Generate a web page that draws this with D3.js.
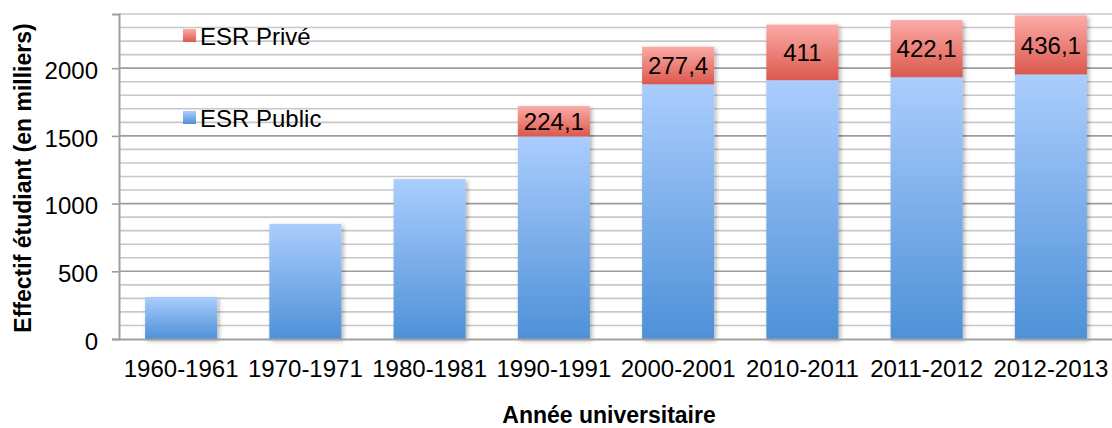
<!DOCTYPE html>
<html>
<head>
<meta charset="utf-8">
<script src="https://cdn.jsdelivr.net/npm/d3@7"></script>
<style>
  body { margin: 0; background: #fff; }
  text { font-family: "Liberation Sans", Arial, sans-serif; fill: #000; }
</style>
</head>
<body>
<div id="chart"></div>
<script>
// chart data
const years = ["1960-1961", "1970-1971", "1980-1981", "1990-1991", "2000-2001", "2010-2011", "2011-2012", "2012-2013"];
const esrPublic = [310, 850, 1181, 1496, 1881, 1911, 1933, 1954];
const esrPrive = [0, 0, 0, 224.1, 277.4, 411, 422.1, 436.1];
const yTicks = [0, 500, 1000, 1500, 2000];
const seriesNames = ["ESR Privé", "ESR Public"];

const svgWidth = 1112;
const svgHeight = 428;
const margin = { top: 14, right: -1, bottom: 89, left: 119 };
const width = svgWidth - margin.left - margin.right;
const height = svgHeight - margin.top - margin.bottom;

const svg = d3.select("#chart")
  .append("svg")
  .attr("width", svgWidth)
  .attr("height", svgHeight);

// gradients + shadow
const defs = svg.append("defs");
const blueGrad = defs.append("linearGradient")
  .attr("id", "blueGrad").attr("x1", 0).attr("y1", 0).attr("x2", 0).attr("y2", 1);
blueGrad.append("stop").attr("offset", "0%").attr("stop-color", "#abcdfd");
blueGrad.append("stop").attr("offset", "100%").attr("stop-color", "#4e91d8");
const redGrad = defs.append("linearGradient")
  .attr("id", "redGrad").attr("x1", 0).attr("y1", 0).attr("x2", 0).attr("y2", 1);
redGrad.append("stop").attr("offset", "0%").attr("stop-color", "#fcaba7");
redGrad.append("stop").attr("offset", "100%").attr("stop-color", "#db584d");
const shadow = defs.append("filter").attr("id", "shadow")
  .attr("x", "-20%").attr("y", "-20%").attr("width", "140%").attr("height", "140%");
shadow.append("feDropShadow")
  .attr("dx", 2).attr("dy", 2).attr("stdDeviation", 2)
  .attr("flood-color", "#000").attr("flood-opacity", 0.3);

const chartGroup = svg.append("g")
  .attr("transform", `translate(${margin.left},${margin.top})`);

const x = d3.scaleBand()
  .domain(years)
  .range([0, width])
  .paddingInner(0.42)
  .paddingOuter(0.21);

const y = d3.scaleLinear()
  .domain([0, 2400])
  .range([height, 0]);

// gridlines, minor every 100
const minor = d3.range(100, 2401, 100).filter(v => v % 500 !== 0);
chartGroup.selectAll(".minor")
  .data(minor)
  .enter()
  .append("line")
  .attr("x1", 0).attr("x2", width)
  .attr("y1", d => y(d)).attr("y2", d => y(d))
  .attr("stroke", "#c8c8c8")
  .attr("stroke-width", 1.6);

chartGroup.selectAll(".major")
  .data(yTicks.slice(1))
  .enter()
  .append("line")
  .attr("x1", 0).attr("x2", width)
  .attr("y1", d => y(d)).attr("y2", d => y(d))
  .attr("stroke", "#9c9c9c")
  .attr("stroke-width", 1.6);

// y axis
const leftAxis = d3.axisLeft(y).tickValues(yTicks).tickFormat(d3.format("d")).tickSize(7).tickPadding(14);
const yAxis = chartGroup.append("g").call(leftAxis);
yAxis.select(".domain").attr("stroke", "#a0a0a0").attr("stroke-width", 2);
yAxis.selectAll(".tick line").attr("stroke", "#9c9c9c").attr("stroke-width", 1.6);
yAxis.selectAll(".tick text")
  .attr("font-size", "24px")
  .attr("dy", "0.43em")
  .style("font-family", "'Liberation Sans', Arial, sans-serif");

// bars
const groups = chartGroup.selectAll(".bar")
  .data(years.map((yr, i) => ({ yr, pub: esrPublic[i], priv: esrPrive[i] })))
  .enter()
  .append("g")
  .attr("filter", "url(#shadow)");

groups.append("rect")
  .attr("x", d => x(d.yr))
  .attr("width", x.bandwidth())
  .attr("y", d => y(d.pub))
  .attr("height", d => y(0) - y(d.pub))
  .attr("fill", "url(#blueGrad)");

groups.filter(d => d.priv > 0)
  .append("rect")
  .attr("x", d => x(d.yr))
  .attr("width", x.bandwidth())
  .attr("y", d => y(d.pub + d.priv))
  .attr("height", d => y(d.pub) - y(d.pub + d.priv))
  .attr("fill", "url(#redGrad)");

// private labels
chartGroup.selectAll(".lbl")
  .data(years.map((yr, i) => ({ yr, pub: esrPublic[i], priv: esrPrive[i] })).filter(d => d.priv > 0))
  .enter()
  .append("text")
  .attr("x", d => x(d.yr) + x.bandwidth() / 2)
  .attr("y", d => (y(d.pub) + y(d.pub + d.priv)) / 2)
  .attr("dy", "0.36em")
  .attr("text-anchor", "middle")
  .attr("font-size", "24px")
  .text(d => String(d.priv).replace(".", ","));

// x axis
const bottomAxis = d3.axisBottom(x).tickSize(0).tickPadding(22);
const xAxis = chartGroup.append("g")
  .attr("transform", `translate(0, ${height})`)
  .call(bottomAxis);
xAxis.select(".domain").attr("stroke", "#a0a0a0").attr("stroke-width", 2);
xAxis.selectAll(".tick text")
  .attr("font-size", "24px")
  .attr("dy", "0.68em")
  .style("font-family", "'Liberation Sans', Arial, sans-serif");

// legend
const legendY = [29, 111];
const legendFill = ["url(#redGrad)", "url(#blueGrad)"];
const legend = svg.append("g");
seriesNames.forEach((name, i) => {
  legend.append("rect")
    .attr("x", 183).attr("y", legendY[i])
    .attr("width", 13).attr("height", 13)
    .attr("fill", legendFill[i]);
  legend.append("text")
    .attr("x", 200).attr("y", legendY[i] + 16)
    .attr("font-size", "24px")
    .text(name);
});

// axis titles
svg.append("text")
  .attr("transform", "translate(31, 178) rotate(-90)")
  .attr("text-anchor", "middle")
  .attr("font-size", "23px")
  .attr("font-weight", "bold")
  .text("Effectif étudiant (en milliers)");

svg.append("text")
  .attr("x", 609)
  .attr("y", 423)
  .attr("text-anchor", "middle")
  .attr("font-size", "23px")
  .attr("font-weight", "bold")
  .text("Année universitaire");
</script>
</body>
</html>
